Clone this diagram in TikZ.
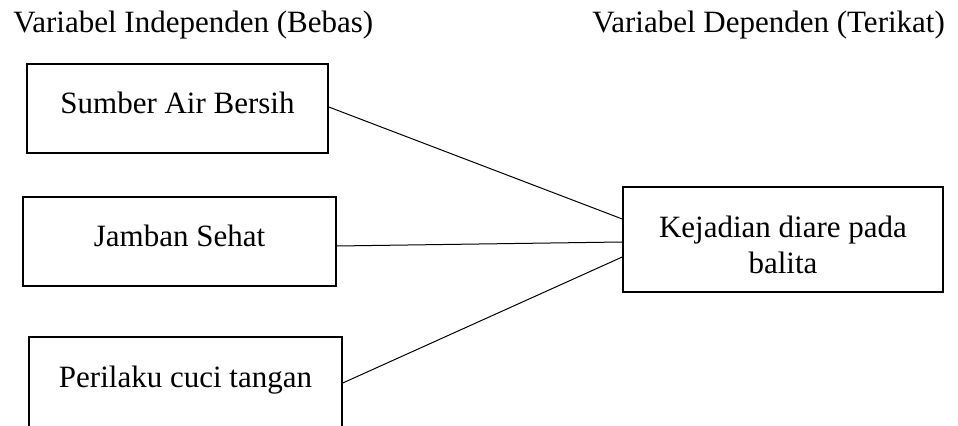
\documentclass[tikz,border=0pt]{standalone}
\usepackage{fontspec}
\setmainfont{Liberation Serif}
\usetikzlibrary{positioning}

\begin{document}
\begin{tikzpicture}[
		x=0.5pt, y=-0.5pt,
		every node/.style={font=\fontsize{15.5}{18}\selectfont},
		varbox/.style={draw, line width=0.75pt, inner sep=0pt, align=center,
			text height=11.5pt, text depth=6pt},
		link/.style={line width=0.5pt}
	]
		\useasboundingbox (0,0) rectangle (958,426);
		\node[anchor=base west, inner sep=0pt] (indep) at (13,33) {Variabel Independen (Bebas)};
		\node[anchor=base west, inner sep=0pt] (dep) at (592,33) {Variabel Dependen (Terikat)};
		\node[varbox, minimum width=150.5pt, minimum height=44.5pt] (air) at (177.5,108.5) {Sumber Air Bersih};
		\node[varbox, minimum width=156.5pt, minimum height=44.5pt] (jamban) at (179.5,241.5) {Jamban Sehat};
		\node[varbox, minimum width=156.5pt, minimum height=45.5pt] (cuci) at (185.5,382.5) {Perilaku cuci tangan};
		\node[varbox, minimum width=160pt, minimum height=52.5pt, text height=34pt, text depth=0pt] (diare) at (783,239.5) {Kejadian diare pada\\balita};
		\foreach \a/\sa/\sb in {air/0.75pt/10.25pt,jamban/-2.25pt/-1.25pt,cuci/-0.25pt/-8.75pt}
			\draw[link] ([yshift=\sa]\a.east) -- ([yshift=\sb]diare.west);
	\end{tikzpicture}
\end{document}
